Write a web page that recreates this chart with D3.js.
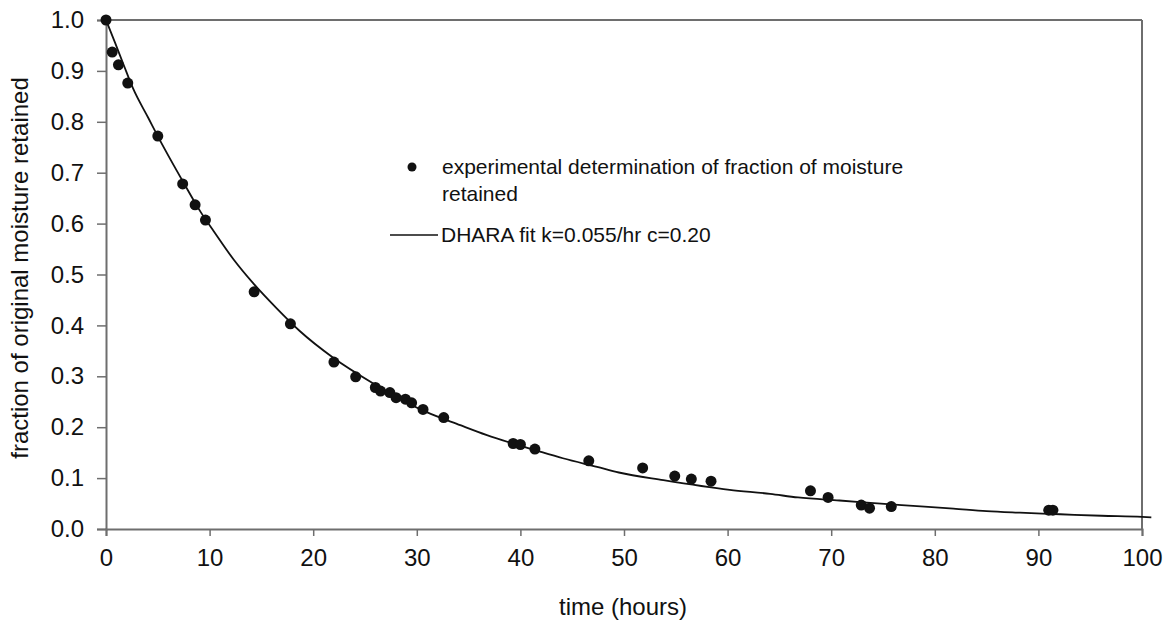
<!DOCTYPE html>
<html>
<head>
<meta charset="utf-8">
<script src="https://cdn.jsdelivr.net/npm/d3@7"></script>
<style>
  body { margin: 0; background: #fff; }
  text { font-family: "Liberation Sans", Arial, sans-serif; fill: #111; }
</style>
</head>
<body>
<div id="chart"></div>
<script>
// measured points (hours, fraction retained)
var hours = [0, 0.6, 1.2, 2.1, 5.0, 7.4, 8.6, 9.6, 14.3, 17.8, 22.0, 24.1, 26.0, 26.5, 27.4, 28.0, 28.9, 29.5,
             30.6, 32.6, 39.3, 40.0, 41.4, 46.6, 51.8, 54.9, 56.5, 58.4, 68.0, 69.7, 72.9, 73.7, 75.8, 91.0, 91.4];
var retained = [1.0, 0.937, 0.912, 0.876, 0.772, 0.678, 0.637, 0.607, 0.466, 0.403, 0.328, 0.299, 0.278, 0.271, 0.268, 0.258, 0.255, 0.248,
                0.235, 0.219, 0.168, 0.166, 0.157, 0.134, 0.120, 0.104, 0.098, 0.094, 0.075, 0.062, 0.047, 0.041, 0.044, 0.037, 0.037];

// fit curve
var fitHours = [0, 0.9, 1.7, 2.6, 4.1, 5.2, 7.5, 9.1, 10.4, 12.3, 14.2, 16.5, 18.7, 21.9, 25.8, 30.9, 34.2, 36.7,
                41.9, 44.1, 47.4, 49.5, 53.8, 60.2, 64.1, 66.8, 70.8, 76.8, 81.8, 85.0, 88.2, 92.1, 96.1, 100, 100.9];
var fitValues = [1.0, 0.954, 0.912, 0.866, 0.807, 0.764, 0.680, 0.624, 0.585, 0.530, 0.483, 0.433, 0.389, 0.337, 0.286, 0.230, 0.204, 0.185,
                 0.152, 0.139, 0.122, 0.111, 0.096, 0.077, 0.069, 0.062, 0.056, 0.047, 0.040, 0.035, 0.032, 0.029, 0.026, 0.024, 0.023];

var xTicks = [0, 10, 20, 30, 40, 50, 60, 70, 80, 90, 100];
var yTicks = [0, 0.1, 0.2, 0.3, 0.4, 0.5, 0.6, 0.7, 0.8, 0.9, 1.0];

var svgWidth = 1167;
var svgHeight = 622;
var margin = { top: 20, right: 25, bottom: 93, left: 106 };
var width = svgWidth - margin.left - margin.right;
var height = svgHeight - margin.top - margin.bottom;

var svg = d3.select("#chart").append("svg")
  .attr("width", svgWidth)
  .attr("height", svgHeight);

var chartGroup = svg.append("g")
  .attr("transform", `translate(${margin.left}, ${margin.top})`);

var x = d3.scaleLinear().domain([0, 100]).range([0, width]);
var y = d3.scaleLinear().domain([0, 1]).range([height, 0]);

var axisColor = "#6e6e6e";

// frame: top and right
chartGroup.append("line")
  .attr("x1", 0).attr("x2", width).attr("y1", 0).attr("y2", 0)
  .attr("stroke", axisColor).attr("stroke-width", 2);
chartGroup.append("line")
  .attr("x1", width).attr("x2", width).attr("y1", 0).attr("y2", height)
  .attr("stroke", axisColor).attr("stroke-width", 2);

var xAxis = chartGroup.append("g")
  .attr("transform", `translate(0, ${height})`)
  .call(d3.axisBottom(x).tickValues(xTicks).tickSize(7).tickPadding(13).tickFormat(d3.format("d")));

var yAxis = chartGroup.append("g")
  .call(d3.axisLeft(y).tickValues(yTicks).tickSize(9).tickPadding(13).tickFormat(d3.format(".1f")));

[xAxis, yAxis].forEach(function(ax) {
  ax.select(".domain").attr("stroke", axisColor).attr("stroke-width", 2);
  ax.selectAll(".tick line").attr("stroke", axisColor).attr("stroke-width", 1.5);
  ax.selectAll(".tick text")
    .style("font-family", "Liberation Sans, Arial, sans-serif")
    .style("font-size", "24px")
    .attr("fill", "#111");
});

// fit line
var line = d3.line()
  .x(function(d, i) { return x(fitHours[i]); })
  .y(function(d) { return y(d); })
  .curve(d3.curveMonotoneX);

chartGroup.append("path")
  .datum(fitValues)
  .attr("d", line)
  .attr("fill", "none")
  .attr("stroke", "#111")
  .attr("stroke-width", 1.8);

// points
chartGroup.append("g").selectAll("circle")
  .data(retained)
  .enter()
  .append("circle")
  .attr("cx", function(d, i) { return x(hours[i]); })
  .attr("cy", function(d) { return y(d); })
  .attr("r", 5.5)
  .attr("fill", "#111");

// axis titles
svg.append("text")
  .attr("x", 623)
  .attr("y", 615)
  .attr("text-anchor", "middle")
  .style("font-size", "24px")
  .text("time (hours)");

svg.append("text")
  .attr("transform", "translate(28, 268) rotate(-90)")
  .attr("text-anchor", "middle")
  .style("font-size", "24px")
  .text("fraction of original moisture retained");

// legend
var legend = svg.append("g");
legend.append("circle")
  .attr("cx", 412).attr("cy", 167).attr("r", 4.5).attr("fill", "#111");
legend.append("text")
  .attr("x", 442).attr("y", 174)
  .style("font-size", "21px")
  .text("experimental determination of fraction of moisture");
legend.append("text")
  .attr("x", 442).attr("y", 201)
  .style("font-size", "21px")
  .text("retained");
legend.append("line")
  .attr("x1", 390).attr("x2", 438).attr("y1", 235).attr("y2", 235)
  .attr("stroke", "#111").attr("stroke-width", 1.5);
legend.append("text")
  .attr("x", 441).attr("y", 242)
  .style("font-size", "21px")
  .text("DHARA fit k=0.055/hr c=0.20");
</script>
</body>
</html>
